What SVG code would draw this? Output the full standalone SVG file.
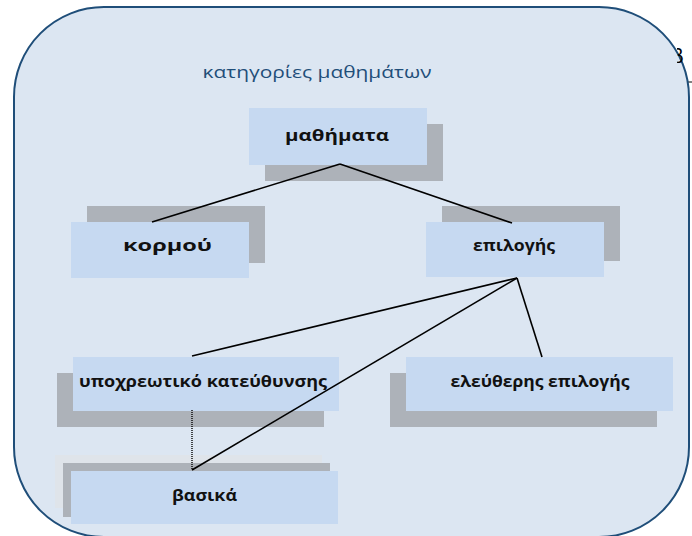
<svg xmlns="http://www.w3.org/2000/svg" width="692" height="536" viewBox="0 0 692 536">
<defs>
<style>
.box{fill:#c6d9f1}
.sh{fill:#adb2b9}
.lbl{font-family:"Open Sans","Noto Sans",Arial,sans-serif;font-weight:bold;font-size:16.5px;fill:#111;text-anchor:middle}
.ln{stroke:#000;stroke-width:1.6;fill:none}
</style>
<clipPath id="cb"><rect x="677" y="30" width="15" height="50"/></clipPath>
</defs>
<rect width="692" height="536" fill="#fff"/>
<line x1="687" y1="82" x2="692" y2="82" stroke="#000" stroke-width="1"/>
<rect x="14" y="7" width="675" height="530" rx="90" ry="90" fill="#dce6f2" stroke="#1f4e79" stroke-width="2"/>
<text x="672" y="63" clip-path="url(#cb)" font-family="Liberation Sans,Arial,sans-serif" font-size="20" fill="#000">β</text>
<text x="317" y="78" font-family="Open Sans,Noto Sans,Arial,sans-serif" font-size="17" fill="#1f4e79" text-anchor="middle" textLength="229" lengthAdjust="spacingAndGlyphs">κατηγορίες μαθημάτων</text>
<g id="n-mathimata">
<rect class="sh" x="265" y="124" width="178" height="57"/>
<rect class="box" x="249" y="108" width="178" height="57"/>
<text class="lbl" x="337" y="141" textLength="104" lengthAdjust="spacingAndGlyphs">μαθήματα</text>
</g>
<g id="n-kormou">
<rect class="sh" x="87" y="206" width="178" height="57"/>
<rect class="box" x="71" y="222" width="178" height="56"/>
<text class="lbl" x="167.5" y="251" textLength="89" lengthAdjust="spacingAndGlyphs">κορμού</text>
</g>
<g id="n-epilogis">
<rect class="sh" x="442" y="206" width="178" height="55"/>
<rect class="box" x="426" y="222" width="178" height="55"/>
<text class="lbl" x="514" y="251" textLength="82" lengthAdjust="spacingAndGlyphs">επιλογής</text>
</g>
<g id="n-ypoxreotiko">
<rect class="sh" x="57" y="373" width="267" height="54"/>
<rect class="box" x="73" y="357" width="266" height="54"/>
<text class="lbl" x="203" y="387" textLength="248" lengthAdjust="spacingAndGlyphs">υποχρεωτικό κατεύθυνσης</text>
</g>
<g id="n-eleftheris">
<rect class="sh" x="390" y="373" width="267" height="54"/>
<rect class="box" x="406" y="357" width="267" height="54"/>
<text class="lbl" x="540" y="387" textLength="179" lengthAdjust="spacingAndGlyphs">ελεύθερης επιλογής</text>
</g>
<g id="n-vasika">
<rect x="55" y="455" width="267" height="53" fill="#dfe4ea"/>
<rect class="sh" x="63" y="463" width="267" height="54"/>
<rect class="box" x="71" y="471" width="267" height="53"/>
<text class="lbl" x="204.5" y="501" textLength="65" lengthAdjust="spacingAndGlyphs">βασικά</text>
</g>
<g id="connectors">
<line class="ln" x1="340" y1="164" x2="152" y2="222"/>
<line class="ln" x1="340" y1="164" x2="512" y2="223"/>
<line class="ln" x1="517" y1="278" x2="192" y2="356"/>
<line class="ln" x1="517" y1="278" x2="192" y2="470"/>
<line class="ln" x1="517" y1="278" x2="542" y2="357"/>
<line x1="192" y1="410" x2="192" y2="470" stroke="#000" stroke-width="1.4" stroke-dasharray="1 1"/>
</g>
</svg>
